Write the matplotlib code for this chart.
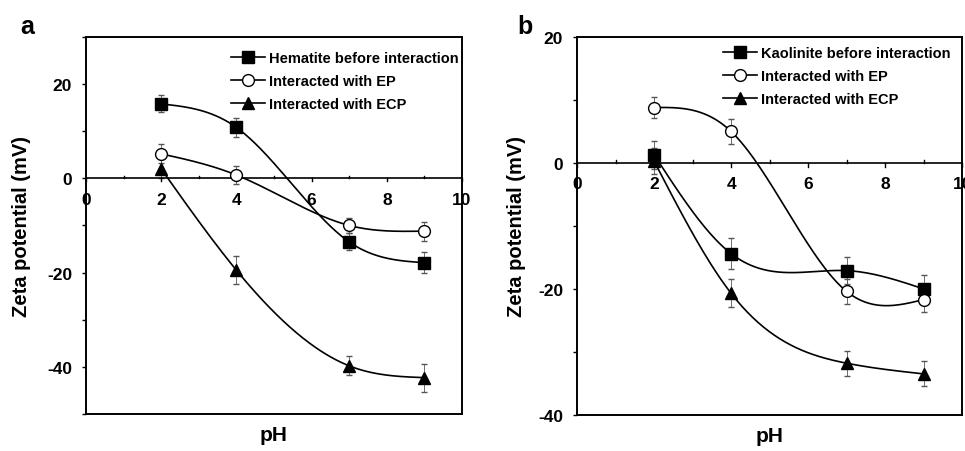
import numpy as np
import matplotlib
matplotlib.use("Agg")
import matplotlib.pyplot as plt
from matplotlib.ticker import MultipleLocator

plt.rcParams['font.family'] = ['Liberation Sans', 'DejaVu Sans']
plt.rcParams['font.weight'] = 'bold'
plt.rcParams['axes.unicode_minus'] = False

# pH values measured
ph = [2, 4, 7, 9]

# Panel a: hematite
hem_before = [15.8, 10.8, -13.5, -17.9]
hem_before_err = [1.8, 2.0, 1.8, 2.2]
hem_ep = [5.2, 0.7, -10.0, -11.2]
hem_ep_err = [2.0, 2.0, 1.5, 2.0]
hem_ecp = [2.0, -19.5, -39.8, -42.3]
hem_ecp_err = [2.0, 3.0, 2.0, 3.0]

# Panel b: kaolinite
kao_before = [1.3, -14.4, -17.1, -20.0]
kao_before_err = [2.2, 2.5, 2.2, 2.2]
kao_ep = [8.8, 5.0, -20.4, -21.7]
kao_ep_err = [1.6, 2.0, 2.0, 2.0]
kao_ecp = [0.3, -20.7, -31.8, -33.5]
kao_ecp_err = [2.0, 2.2, 2.0, 2.0]

labels_a = ["Hematite before interaction", "Interacted with EP", "Interacted with ECP"]
labels_b = ["Kaolinite before interaction", "Interacted with EP", "Interacted with ECP"]


def natural_spline(x, y, n=200):
    """ Natural cubic spline through the points (smooth connecting line). """
    x = np.asarray(x, float)
    y = np.asarray(y, float)
    k = len(x)
    h = np.diff(x)
    A = np.zeros((k, k))
    r = np.zeros(k)
    A[0, 0] = A[-1, -1] = 1
    for i in range(1, k - 1):
        A[i, i - 1] = h[i - 1]
        A[i, i] = 2 * (h[i - 1] + h[i])
        A[i, i + 1] = h[i]
        r[i] = 6 * ((y[i + 1] - y[i]) / h[i] - (y[i] - y[i - 1]) / h[i - 1])
    m = np.linalg.solve(A, r)
    xs = np.linspace(x[0], x[-1], n)
    idx = np.clip(np.searchsorted(x, xs) - 1, 0, k - 2)
    x0, x1 = x[idx], x[idx + 1]
    hh = x1 - x0
    t0, t1 = x1 - xs, xs - x0
    ys = (m[idx] * t0**3 / (6 * hh) + m[idx + 1] * t1**3 / (6 * hh)
          + (y[idx] / hh - m[idx] * hh / 6) * t0
          + (y[idx + 1] / hh - m[idx + 1] * hh / 6) * t1)
    return xs, ys


def draw_panel(ax, series, errs, labels, ylim, leg_anchor):
    styles = [dict(marker='s', mfc='black', mec='black'),
              dict(marker='o', mfc='white', mec='black'),
              dict(marker='^', mfc='black', mec='black')]
    for y, e, st in zip(series, errs, styles):
        xs, ys = natural_spline(ph, y)
        ax.plot(xs, ys, color='black', lw=1.2, zorder=2)
        ax.errorbar(ph, y, yerr=e, fmt='none', ecolor='#555555',
                    elinewidth=0.6, capsize=2, capthick=1.0, zorder=1)
        ax.plot(ph, y, ls='none', ms=8.5, markeredgewidth=1.0, zorder=3, **st)

    ax.axhline(0, color='black', lw=1.2, zorder=1)
    ax.set_xlim(0, 10)
    ax.set_ylim(*ylim)
    for s in ax.spines.values():
        s.set_linewidth(1.4)
    ax.yaxis.set_major_locator(MultipleLocator(20))
    ax.yaxis.set_minor_locator(MultipleLocator(10))
    ax.tick_params(axis='y', which='both', direction='out', length=3,
                   width=1.0, labelsize=12.5, pad=7)
    ax.set_xticks([])
    # x ticks and labels sit on the zero line
    for xv in range(0, 11):
        ax.plot([xv, xv], [0, -0.6 if xv % 2 == 0 else 0.4], color='black',
                lw=1.0, zorder=1, clip_on=False)
    yr = ylim[1] - ylim[0]
    for xv in range(0, 11, 2):
        ax.text(xv, -0.035 * yr, str(xv), ha='center', va='top',
                fontsize=12.5, fontweight='bold', clip_on=False)
    ax.set_xlabel('pH', fontsize=15, fontweight='bold', labelpad=8)
    ax.set_ylabel('Zeta potential (mV)', fontsize=14.5, fontweight='bold')

    leg_handles = []
    for st in styles:
        lh, = ax.plot([], [], color='black', lw=1.2, ms=8.5,
                      markeredgewidth=1.0, **st)
        leg_handles.append(lh)
    ax.legend(leg_handles, labels, loc='upper right', frameon=False,
              bbox_to_anchor=leg_anchor,
              prop=dict(size=10.5, weight='bold'), handlelength=2.3,
              handletextpad=0.3, labelspacing=0.6, borderaxespad=0.0,
              borderpad=0.0)


fig = plt.figure(figsize=(9.65, 4.52), dpi=100)
ax_a = fig.add_axes([0.0891, 0.082, 0.3897, 0.834])
ax_b = fig.add_axes([0.598, 0.080, 0.399, 0.836])

draw_panel(ax_a, [hem_before, hem_ep, hem_ecp],
           [hem_before_err, hem_ep_err, hem_ecp_err], labels_a, (-50, 30),
           (0.992, 0.962))
draw_panel(ax_b, [kao_before, kao_ep, kao_ecp],
           [kao_before_err, kao_ep_err, kao_ecp_err], labels_b, (-40, 20),
           (0.97, 0.975))

ax_a.yaxis.set_label_coords(-0.146, 0.5)
ax_b.yaxis.set_label_coords(-0.132, 0.5)

fig.text(0.021, 0.925, 'a', fontsize=18, fontweight='bold')
fig.text(0.536, 0.925, 'b', fontsize=18, fontweight='bold')

fig.savefig('out.png', dpi=100)
